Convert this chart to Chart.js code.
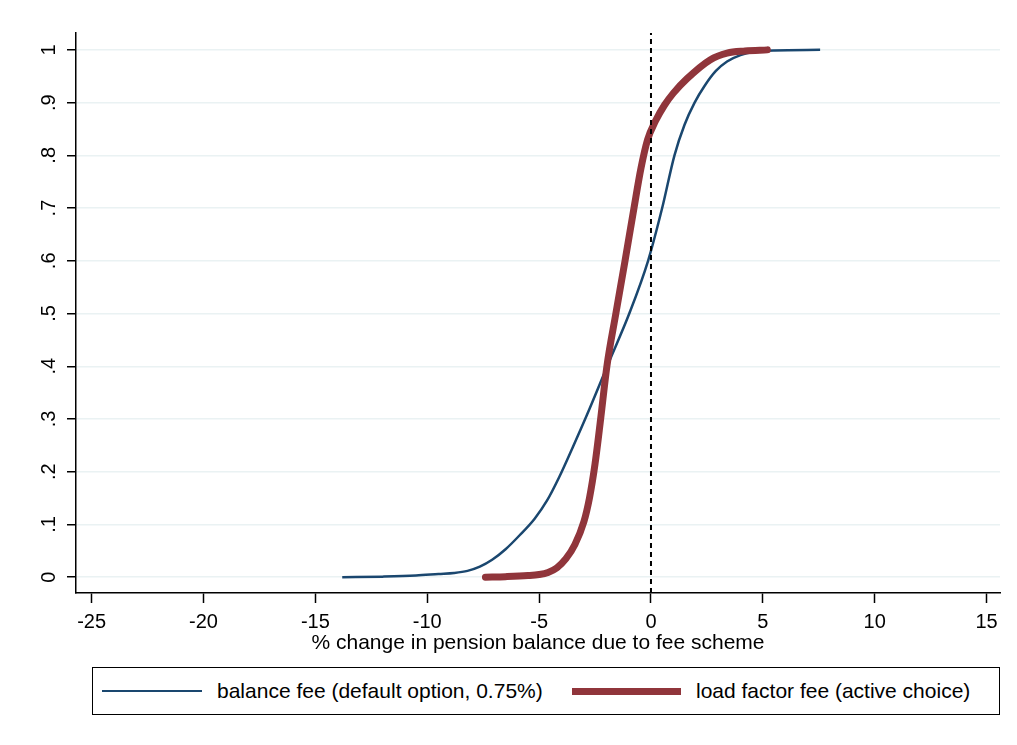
<!DOCTYPE html>
<html>
<head>
<meta charset="utf-8">
<script src="https://cdn.jsdelivr.net/npm/chart.js@4/dist/chart.umd.min.js"></script>
<style>
    body { margin: 0; background: #fff; font-family: "Liberation Sans", Arial, sans-serif; }
    #wrap { position: absolute; left: 0; top: 0; width: 1017px; height: 660px; }
    #legend {
        position: absolute; left: 92px; top: 667px; width: 908px; height: 48px;
        border: 1px solid #000; box-sizing: border-box; font-size: 21px; color: #000;
    }
    .item { position: absolute; top: 0; height: 46px; display: flex; align-items: center; }
    .swatch { display: inline-block; margin-right: 15px; }
</style>
</head>
<body>
<div id="wrap"><canvas id="chart"></canvas></div>
<div id="legend">
    <div class="item" style="left: 9px;"><span class="swatch" style="width: 100px; height: 2px; background: #1a476f;"></span><span id="lab-balance"></span></div>
    <div class="item" style="left: 479px;"><span class="swatch" style="width: 109px; height: 7px; background: #90353b;"></span><span id="lab-load"></span></div>
</div>
<script>
const balanceLabel = "balance fee (default option, 0.75%)";
const loadLabel = "load factor fee (active choice)";
const xTitle = "% change in pension balance due to fee scheme";

const balanceX = [-13.8, -12, -10.5, -9.5, -8.8, -8.2, -7.65, -7.1, -6.5, -5.86, -5.2, -4.65, -4.1, -3.49, -2.86, -1.92, -0.97, -0.13, 0.5, 1.05, 1.5, 1.95, 2.4, 2.9, 3.4, 4.0, 4.56, 5.5, 7.56];
const balanceY = [0, 0.001, 0.003, 0.006, 0.008, 0.012, 0.02, 0.033, 0.053, 0.08, 0.111, 0.145, 0.19, 0.247, 0.308, 0.404, 0.5, 0.6, 0.7, 0.8, 0.858, 0.9, 0.932, 0.96, 0.978, 0.99, 0.996, 0.999, 1.0];

const loadX = [-7.4, -6.5, -5.5, -5, -4.6, -4.2, -3.8, -3.4, -3.0, -2.75, -2.5, -2.25, -1.97, -1.57, -1.16, -0.76, -0.45, -0.15, 0.2, 0.6, 1.0, 1.6, 2.64, 3.4, 4.2, 5.2];
const loadY = [0, 0.001, 0.003, 0.005, 0.009, 0.018, 0.035, 0.062, 0.105, 0.15, 0.215, 0.3, 0.4, 0.5, 0.6, 0.7, 0.775, 0.83, 0.865, 0.895, 0.918, 0.945, 0.981, 0.994, 0.998, 1.0];

const refLineX = [0, 0];
const refLineY = [-0.03, 1.032];

const xTicks = [-25, -20, -15, -10, -5, 0, 5, 10, 15];
const yTicks = [0, 0.1, 0.2, 0.3, 0.4, 0.5, 0.6, 0.7, 0.8, 0.9, 1];
const yTickLabels = ["0", ".1", ".2", ".3", ".4", ".5", ".6", ".7", ".8", ".9", "1"];

document.getElementById("lab-balance").textContent = balanceLabel;
document.getElementById("lab-load").textContent = loadLabel;

const toPoints = (xs, ys) => xs.map((x, i) => ({ x: x, y: ys[i] }));
const tickFont = { family: "Liberation Sans", size: 20 };

new Chart(document.getElementById("chart"), {
    type: "scatter",
    data: {
        datasets: [
            {
                label: balanceLabel,
                data: toPoints(balanceX, balanceY),
                showLine: true,
                borderColor: "#1a476f",
                borderWidth: 2.5,
                pointRadius: 0,
                cubicInterpolationMode: "monotone",
                order: 2,
            },
            {
                label: loadLabel,
                data: toPoints(loadX, loadY),
                showLine: true,
                borderColor: "#90353b",
                borderWidth: 7,
                borderCapStyle: "round",
                pointRadius: 0,
                cubicInterpolationMode: "monotone",
                order: 1,
            },
            {
                label: "zero",
                data: toPoints(refLineX, refLineY),
                showLine: true,
                borderColor: "#000",
                borderWidth: 2,
                borderDash: [5, 4],
                pointRadius: 0,
                order: 0,
            },
        ],
    },
    options: {
        responsive: true,
        maintainAspectRatio: false,
        animation: false,
        layout: { padding: { top: 33, right: 17, left: 0, bottom: 0 } },
        plugins: {
            legend: { display: false },
            tooltip: { enabled: false },
        },
        scales: {
            x: {
                type: "linear",
                min: -25.7,
                max: 15.6,
                afterBuildTicks: (scale) => {
                    scale.ticks = xTicks.map((v) => ({ value: v }));
                },
                afterFit: (scale) => {
                    scale.height = 67;
                },
                ticks: {
                    font: tickFont,
                    color: "#000",
                    padding: 7,
                    maxRotation: 0,
                    callback: (v) => String(v),
                },
                grid: {
                    drawOnChartArea: false,
                    tickLength: 10,
                    tickColor: "#000",
                    tickWidth: 1.5,
                },
                border: { color: "#000", width: 1.5 },
                title: {
                    display: true,
                    text: xTitle,
                    font: { family: "Liberation Sans", size: 21 },
                    color: "#000",
                    padding: { top: 0, bottom: 4 },
                },
            },
            y: {
                type: "linear",
                min: -0.03,
                max: 1.032,
                afterBuildTicks: (scale) => {
                    scale.ticks = yTicks.map((v) => ({ value: v }));
                },
                afterFit: (scale) => {
                    scale.width = 76;
                },
                ticks: {
                    font: tickFont,
                    color: "#000",
                    minRotation: 90,
                    maxRotation: 90,
                    crossAlign: "center",
                    padding: 9,
                    callback: (v) => {
                        const i = yTicks.indexOf(v);
                        return i >= 0 ? yTickLabels[i] : "";
                    },
                },
                grid: {
                    color: "#eaf2f3",
                    lineWidth: 1.5,
                    tickLength: 9,
                    tickColor: "#000",
                    tickWidth: 1.5,
                },
                border: { color: "#000", width: 1.5 },
            },
        },
    },
});
</script>
</body>
</html>
